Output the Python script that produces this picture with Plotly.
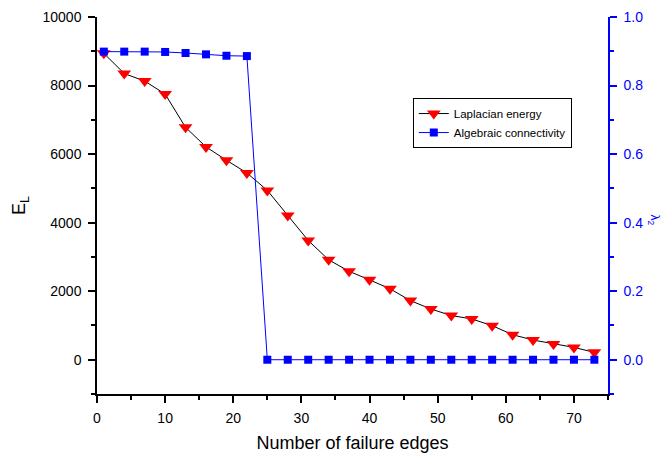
import plotly.graph_objects as go

x_energy = [1, 4, 7, 10, 13, 16, 19, 22, 25, 28, 31, 34, 37, 40, 43, 46, 49, 52, 55, 58, 61, 64, 67, 70, 73]
laplacian_energy = [8940, 8350, 8130, 7750, 6780, 6210, 5820, 5450, 4940, 4210, 3480, 2915, 2580, 2330, 2070,
                    1725, 1480, 1290, 1190, 995, 730, 575, 460, 360, 215]
x_conn = [1, 4, 7, 10, 13, 16, 19, 22, 25, 28, 31, 34, 37, 40, 43, 46, 49, 52, 55, 58, 61, 64, 67, 70, 73]
algebraic_connectivity = [0.899, 0.899, 0.899, 0.898, 0.895, 0.891, 0.887, 0.886, 0.0, 0.0, 0.0, 0.0, 0.0, 0.0,
                          0.0, 0.0, 0.0, 0.0, 0.0, 0.0, 0.0, 0.0, 0.0, 0.0, 0.0]

FONT = "Liberation Sans, Arial, sans-serif"
BLUE = "#0000ff"

fig = go.Figure()
fig.add_trace(go.Scatter(
    x=x_energy, y=laplacian_energy, name="Laplacian energy",
    mode="lines+markers",
    line=dict(color="black", width=1),
    marker=dict(symbol="triangle-down", color="#ff0000", size=12, line=dict(width=0)),
    xaxis="x", yaxis="y",
))
fig.add_trace(go.Scatter(
    x=x_conn, y=algebraic_connectivity, name="Algebraic connectivity",
    mode="lines+markers",
    line=dict(color=BLUE, width=1),
    marker=dict(symbol="square", color=BLUE, size=8, line=dict(width=0)),
    xaxis="x", yaxis="y2",
))

fig.update_layout(
    width=670, height=457,
    margin=dict(l=97, r=62, t=17, b=63, autoexpand=False),
    paper_bgcolor="white", plot_bgcolor="white",
    font=dict(family=FONT, size=14, color="black"),
    showlegend=True,
    legend=dict(
        x=0.618, y=0.785, xanchor="left", yanchor="top",
        bgcolor="white", bordercolor="black", borderwidth=1,
        font=dict(family=FONT, size=11.5, color="black"),
        itemwidth=30, tracegroupgap=0,
    ),
    xaxis=dict(
        range=[0, 75], tick0=0, dtick=10,
        showline=True, linecolor="black", linewidth=1.5,
        ticks="outside", ticklen=7, tickwidth=1.5, tickcolor="black",
        minor=dict(dtick=5, tick0=0, ticks="outside", ticklen=4, tickwidth=1.5, tickcolor="black", showgrid=False),
        showgrid=False, zeroline=False,
        tickfont=dict(size=14), ticklabelstandoff=3,
        title=dict(text="Number of failure edges", font=dict(size=18), standoff=12),
    ),
    xaxis2=dict(
        range=[0, 75], tick0=0, dtick=10, overlaying="x", side="top", anchor="y",
        showline=True, linecolor="black", linewidth=1.5,
        ticks="inside", ticklen=7, tickwidth=1.5, tickcolor="black",
        minor=dict(dtick=5, tick0=0, ticks="inside", ticklen=4, tickwidth=1.5, tickcolor="black", showgrid=False),
        showticklabels=False, showgrid=False, zeroline=False,
    ),
    yaxis=dict(
        range=[-1000, 10000], tick0=0, dtick=2000, tickformat="d",
        showline=True, linecolor="black", linewidth=1.5,
        ticks="outside", ticklen=7, tickwidth=1.5, tickcolor="black",
        minor=dict(dtick=1000, tick0=0, ticks="outside", ticklen=4, tickwidth=1.5, tickcolor="black", showgrid=False),
        showgrid=False, zeroline=False,
        tickfont=dict(size=14), ticklabelstandoff=4,
        title=dict(text="E<sub>L</sub>", font=dict(size=18), standoff=12),
    ),
    yaxis2=dict(
        range=[-0.1, 1.0], tick0=0, dtick=0.2, tickformat=".1f",
        overlaying="y", side="right", anchor="x",
        showline=True, linecolor=BLUE, linewidth=1.5,
        ticks="outside", ticklen=7, tickwidth=1.5, tickcolor=BLUE,
        minor=dict(dtick=0.1, tick0=0, ticks="outside", ticklen=4, tickwidth=1.5, tickcolor=BLUE, showgrid=False),
        showgrid=False, zeroline=False,
        tickfont=dict(size=14, color=BLUE), ticklabelstandoff=4,
    ),
    annotations=[dict(
        text="λ<sub>2</sub>", xref="paper", yref="paper", x=1.09, y=0.46,
        showarrow=False, textangle=90, font=dict(family=FONT, size=12, color=BLUE),
        xanchor="center", yanchor="middle",
    )],
)

fig.write_html("out.html", config={"displayModeBar": False},
               post_script="document.body.style.margin='0';document.body.style.padding='0';")
